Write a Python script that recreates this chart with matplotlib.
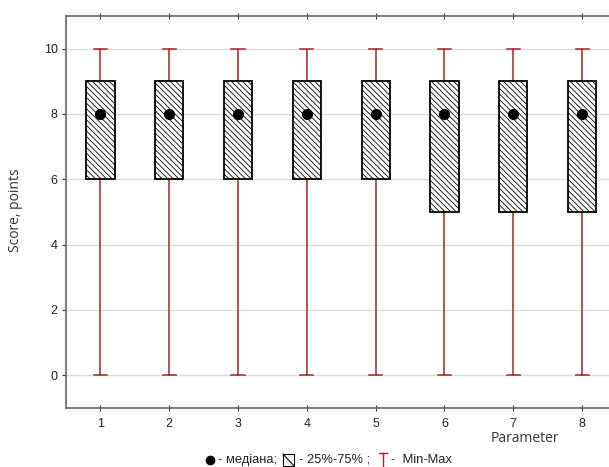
import matplotlib.pyplot as plt
from matplotlib.lines import Line2D
from matplotlib.patches import Rectangle

# values
params = [1, 2, 3, 4, 5, 6, 7, 8]
q_min = [0, 0, 0, 0, 0, 0, 0, 0]
q25 = [6, 6, 6, 6, 6, 5, 5, 5]
median = [8, 8, 8, 8, 8, 8, 8, 8]
q75 = [9, 9, 9, 9, 9, 9, 9, 9]
q_max = [10, 10, 10, 10, 10, 10, 10, 10]
y_ticks = [0, 2, 4, 6, 8, 10]

W, H = 609, 467
red = '#a3262a'
spine_col = '#6e6e6e'
txt_col = '#222222'

plt.rcParams['hatch.linewidth'] = 0.6

fig = plt.figure(figsize=(W / 100, H / 100), dpi=100)
ax = fig.add_axes([66 / W, (H - 408) / H, (616.5 - 66) / W, (408 - 16) / H])

box_w = 0.41
cap_w = 0.19
for x, lo, a, m, b, hi in zip(params, q_min, q25, median, q75, q_max):
    # whiskers and caps
    ax.plot([x, x], [lo, a], color=red, lw=1.1, zorder=2)
    ax.plot([x, x], [b, hi], color=red, lw=1.1, zorder=2)
    ax.plot([x - cap_w / 2, x + cap_w / 2], [lo, lo], color=red, lw=1.1, zorder=2)
    ax.plot([x - cap_w / 2, x + cap_w / 2], [hi, hi], color=red, lw=1.1, zorder=2)
    # box
    ax.add_patch(Rectangle((x - box_w / 2, a), box_w, b - a, facecolor='white',
                           edgecolor='black', hatch='\\' * 6, lw=1.3, zorder=3))
    ax.plot(x, m, 'o', color='black', ms=7, zorder=4)

ax.set_xlim(0.5, 8.5)
ax.set_ylim(-1, 11)
ax.set_xticks(params)
ax.set_yticks(y_ticks)
ax.yaxis.grid(True, color='#dcdcdc', lw=1)
ax.set_axisbelow(True)

for s in ['top', 'bottom', 'left']:
    ax.spines[s].set_color(spine_col)
    ax.spines[s].set_linewidth(1.3)
ax.spines['right'].set_visible(False)

ax.tick_params(axis='x', direction='inout', length=4, color='#333333', top=True,
               labelsize=9, pad=5, labelcolor=txt_col)
ax.tick_params(axis='y', direction='out', length=3, color='#333333', labelsize=9, pad=3,
               labelcolor=txt_col)
for lab in ax.get_xticklabels() + ax.get_yticklabels():
    lab.set_family('Liberation Sans')

fig.text(16 / W, 1 - 210 / H, 'Score, points', rotation=90, ha='center', va='center',
         fontsize=10, family='Open Sans', color='#333333')
fig.text(525 / W, 1 - 439 / H, 'Parameter', ha='center', va='center',
         fontsize=10, family='Open Sans', color='#333333')

# hand-made legend line at the bottom
ly = 1 - 460 / H
fig.add_artist(Line2D([209.5 / W], [ly], marker='o', color='black', ms=6,
                      transform=fig.transFigure))
fig.text(218 / W, ly, '- медіана;', ha='left', va='center', fontsize=9.3,
         family='Liberation Sans', color=txt_col)
fig.add_artist(Rectangle((283 / W, 1 - 466 / H), 11 / W, 12 / H, facecolor='white',
                         edgecolor='black', lw=0.8, transform=fig.transFigure))
fig.add_artist(Line2D([283 / W, 294 / W], [1 - 454 / H, 1 - 466 / H], color='black',
                      lw=0.8, transform=fig.transFigure))
fig.text(299 / W, ly, '- 25%-75% ;', ha='left', va='center', fontsize=9.3,
         family='Liberation Sans', color=txt_col)
fig.add_artist(Line2D([379 / W, 387 / W], [1 - 453 / H, 1 - 453 / H], color=red,
                      lw=1, transform=fig.transFigure))
fig.add_artist(Line2D([383 / W, 383 / W], [1 - 453 / H, 1 - 467 / H], color=red,
                      lw=1, transform=fig.transFigure))
fig.text(391 / W, ly, '-  Min-Max', ha='left', va='center', fontsize=9.3,
         family='Liberation Sans', color=txt_col)

fig.savefig('out.png', dpi=100)
